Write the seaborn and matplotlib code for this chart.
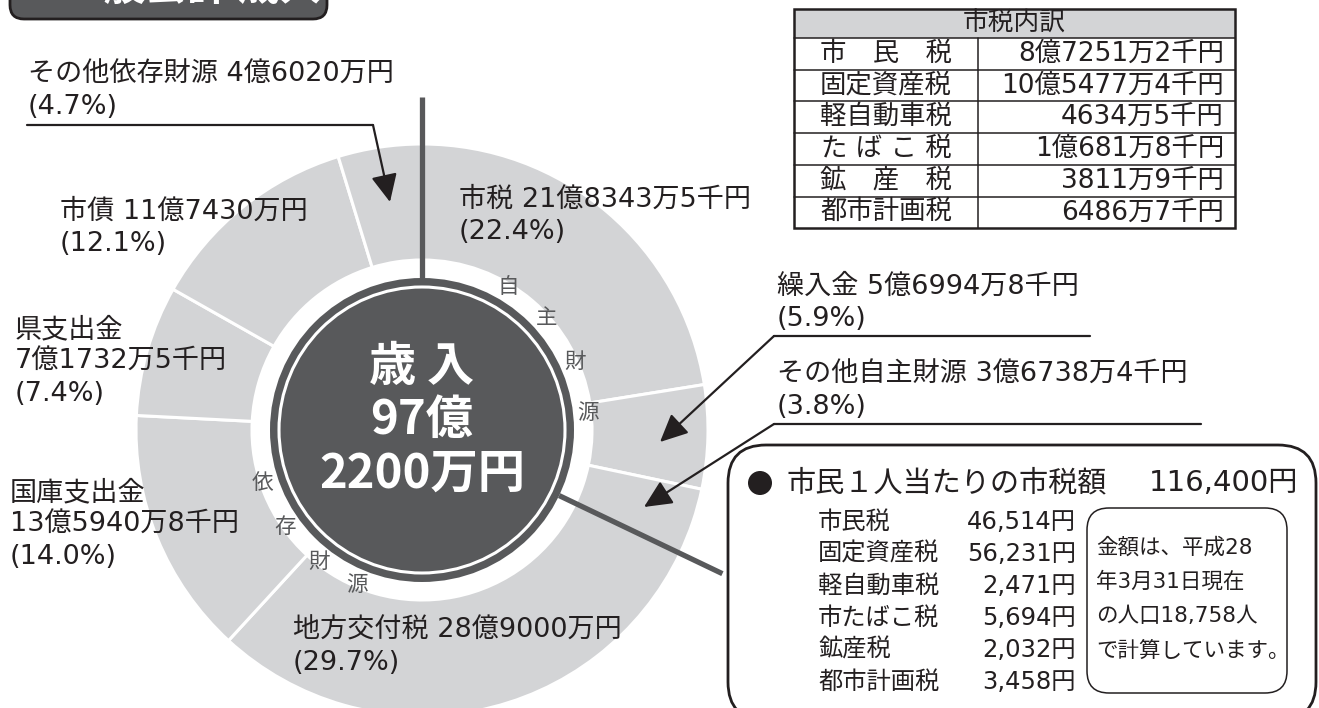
import numpy as np
import matplotlib
matplotlib.use('Agg')
import matplotlib.pyplot as plt
import seaborn as sns
from matplotlib.patches import Circle, FancyBboxPatch, Rectangle

# === データ ===
categories = ['市税', '繰入金', 'その他自主財源', '地方交付税', '国庫支出金', '県支出金', '市債', 'その他依存財源']
amount_labels = ['21億8343万5千円', '5億6994万8千円', '3億6738万4千円', '28億9000万円',
                 '13億5940万8千円', '7億1732万5千円', '11億7430万円', '4億6020万円']
amounts_man = [218343.5, 56994.8, 36738.4, 289000, 135940.8, 71732.5, 117430, 46020]  # 万円
shares = [22.4, 5.9, 3.8, 29.7, 14.0, 7.4, 12.1, 4.7]
n_jishu = 3  # 先頭3つが自主財源

tax_items = ['市　民　税', '固定資産税', '軽自動車税', 'た ば こ 税', '鉱　産　税', '都市計画税']
tax_amounts = ['8億7251万2千円', '10億5477万4千円', '4634万5千円', '1億681万8千円', '3811万9千円', '6486万7千円']

per_capita_items = ['市民税', '固定資産税', '軽自動車税', '市たばこ税', '鉱産税', '都市計画税']
per_capita_yen = [46514, 56231, 2471, 5694, 2032, 3458]
note_lines = ['金額は、平成28', '年3月31日現在', 'の人口18,758人', 'で計算しています。']

# === スタイル ===
sns.set_theme(style='white')
FONTS = ['DejaVu Sans', 'Noto Sans CJK JP']
plt.rcParams['font.family'] = FONTS
DARK = '#58595b'
LIGHT = '#d3d4d6'
INK = '#231f20'

W, H = 1319, 708
fig = plt.figure(figsize=(W / 100, H / 100), dpi=100)
ax = fig.add_axes([0, 0, 1, 1])

# --- ドーナツ ---
CX, CY = 422, 430
R_OUT, R_IN, R_CORE = 286, 170, 152
ax.pie(amounts_man, startangle=-90, counterclock=True, center=(CX, CY), radius=R_OUT,
       colors=[LIGHT] * len(amounts_man),
       wedgeprops=dict(width=R_OUT - R_IN, edgecolor='white', linewidth=2.2))
ax.set_aspect('auto')
ax.set_xlim(0, W)
ax.set_ylim(H, 0)
ax.axis('off')


def polar(deg, r):
    # deg: 上から時計回りの角度
    t = np.deg2rad(deg - 90)
    return CX + r * np.cos(t), CY + r * np.sin(t)


cum = np.cumsum([0] + amounts_man) / sum(amounts_man) * 360
for deg in (cum[0], cum[n_jishu]):
    x0, y0 = polar(deg, R_CORE)
    x1, y1 = polar(deg, 333)
    ax.plot([x0, x1], [y0, y1], color=DARK, lw=3.8, solid_capstyle='butt', zorder=3)

ax.add_patch(Circle((CX, CY), R_CORE, fc=DARK, ec='none', zorder=4))
ax.add_patch(Circle((CX, CY), 143, fill=False, ec='white', lw=2.2, zorder=5))

total = sum(amounts_man)
center_kw = dict(color='white', fontsize=34, fontweight='bold', ha='center', va='center',
                 family=['Noto Sans CJK JP'], zorder=6)
ax.text(CX, 367, '歳 入', **center_kw)
ax.text(CX, 420, f'{int(total // 10000)}億', **center_kw)
ax.text(CX, 474, f'{int(round(total % 10000))}万円', **center_kw)

# 自主財源 / 依存財源 の縦文字
for ch, deg in zip('自主財源', [31, 48, 66, 84]):
    x, y = polar(deg, 167)
    ax.text(x, y, ch, color=DARK, fontsize=15.5, ha='center', va='center', zorder=6)
for ch, deg in zip('依存財源', [251.6, 234.7, 218, 202.7]):
    x, y = polar(deg, 168)
    ax.text(x, y, ch, color=DARK, fontsize=15.5, ha='center', va='center', zorder=6)

# --- ラベル ---
label_pos = {0: (459, 200), 1: (777, 287), 2: (777, 375), 3: (293, 631),
             4: (10, 493), 5: (15, 330), 6: (60, 212), 7: (28, 75)}


def put_lines(x, y0, lines, pitch=32, **kw):
    for i, s in enumerate(lines):
        ax.text(x, y0 + i * pitch, s, ha='left', va='center', color=INK, zorder=7, **kw)


for i, cat in enumerate(categories):
    x, y = label_pos[i]
    pct = f'({shares[i]:.1f}%)'
    if cat in ('国庫支出金', '県支出金'):
        lines = [cat, amount_labels[i], pct]
    else:
        lines = [f'{cat} {amount_labels[i]}', pct]
    put_lines(x, y, lines, fontsize=19.5)

# 引き出し線
leaders = [([1090, 774], 336, (660, 442)),
           ([1201, 774], 424, (644, 507)),
           ([27, 373], 125, (390, 202))]
for xs, yl, tip in leaders:
    ax.plot(xs, [yl, yl], color=INK, lw=1.6, zorder=7)
    ax.annotate('', xy=tip, xytext=(xs[1], yl),
                arrowprops=dict(arrowstyle='-|>,head_length=0.85,head_width=0.4', color=INK,
                                lw=1.6, shrinkA=0, shrinkB=0, mutation_scale=20), zorder=7)

# --- タイトル（上端で切れている）---
ax.add_patch(FancyBboxPatch((10, -40), 317, 59, boxstyle='round,pad=0,rounding_size=14',
                            fc=DARK, ec=INK, lw=2, zorder=2, clip_on=False))
ax.text(192, -12, '一般会計 歳入', color='white', fontsize=30, fontweight='bold', ha='center',
        va='center', family=['Noto Sans CJK JP'], zorder=3)

# --- 市税内訳 表 ---
T_L, T_R, T_SPLIT, T_TOP = 794, 1235, 978, 9
head_h, row_h = 29, 31.7
edges = T_TOP + head_h + np.arange(len(tax_items) + 1) * row_h
ax.add_patch(Rectangle((T_L, T_TOP), T_R - T_L, head_h, fc=LIGHT, ec='none', zorder=2))
for yy in edges[:-1]:
    ax.plot([T_L, T_R], [yy, yy], color=INK, lw=1.1, zorder=3)
ax.plot([T_SPLIT, T_SPLIT], [edges[0], edges[-1]], color=INK, lw=1.1, zorder=3)
ax.add_patch(Rectangle((T_L, T_TOP), T_R - T_L, edges[-1] - T_TOP, fill=False, ec=INK, lw=1.8, zorder=4))
ax.text((T_L + T_R) / 2, T_TOP + head_h / 2, '市税内訳', ha='center', va='center', fontsize=18.5, color=INK)
for i, (nm, am) in enumerate(zip(tax_items, tax_amounts)):
    yc = edges[i] + row_h / 2
    ax.text((T_L + T_SPLIT) / 2, yc, nm, ha='center', va='center', fontsize=19, color=INK)
    ax.text(1224, yc, am, ha='right', va='center', fontsize=19, color=INK)

# --- 市民1人当たり ---
ax.add_patch(FancyBboxPatch((728, 445), 588, 275, boxstyle='round,pad=0,rounding_size=38',
                            fc='white', ec=INK, lw=2, zorder=2))
ax.add_patch(Circle((760, 483), 12, fc=INK, ec='none', zorder=3))
ax.text(786, 483, '市民１人当たりの市税額', ha='left', va='center', fontsize=21, color=INK)
ax.text(1298, 483, f'{sum(per_capita_yen):,}円', ha='right', va='center', fontsize=21, color=INK)
for i, (nm, v) in enumerate(zip(per_capita_items, per_capita_yen)):
    yc = 522 + i * 32
    ax.text(818, yc, nm, ha='left', va='center', fontsize=17.5, color=INK)
    ax.text(1076, yc, f'{v:,}円', ha='right', va='center', fontsize=17.5, color=INK)

ax.add_patch(FancyBboxPatch((1087, 508), 200, 185, boxstyle='round,pad=0,rounding_size=22',
                            fc='white', ec=INK, lw=1.1, zorder=3))
for i, s in enumerate(note_lines):
    ax.text(1096, 547 + i * 34.5, s, ha='left', va='center', fontsize=15.5, color=INK, zorder=4)

fig.savefig('out.png', dpi=100)
